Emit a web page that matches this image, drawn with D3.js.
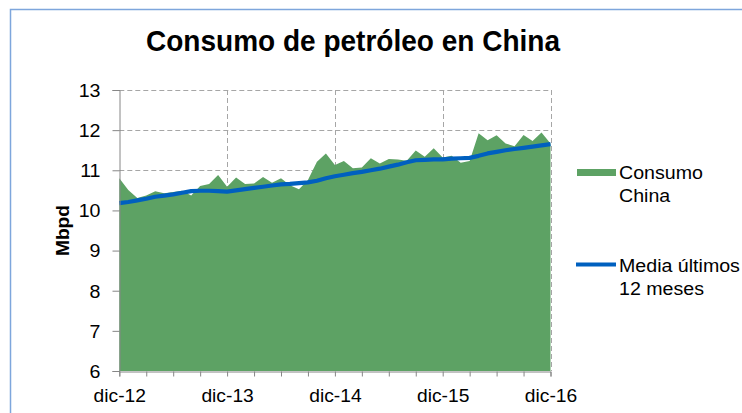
<!DOCTYPE html>
<html>
<head>
<meta charset="utf-8">
<script src="https://cdn.jsdelivr.net/npm/d3@7"></script>
<style>
  body { margin: 0; background: #fff; }
  svg { display: block; font-family: "Liberation Sans", Arial, sans-serif; }
</style>
</head>
<body>
<svg width="742" height="413"></svg>
<script>
// monthly data, dic-12 .. dic-16
var consumo = [10.80, 10.51, 10.31, 10.37, 10.48, 10.43, 10.46, 10.49, 10.37, 10.61,
    10.66, 10.88, 10.59, 10.82, 10.66, 10.67, 10.83, 10.69, 10.80, 10.63,
    10.53, 10.76, 11.21, 11.42, 11.13, 11.23, 11.05, 11.07, 11.30, 11.17,
    11.28, 11.27, 11.24, 11.49, 11.34, 11.55, 11.32, 11.36, 11.19, 11.23,
    11.92, 11.75, 11.87, 11.67, 11.60, 11.88, 11.73, 11.94, 11.67];

var media = [10.18, 10.21, 10.25, 10.29, 10.34, 10.37, 10.40, 10.44, 10.48, 10.49,
    10.49, 10.48, 10.47, 10.50, 10.53, 10.56, 10.59, 10.62, 10.65, 10.66,
    10.68, 10.70, 10.74, 10.80, 10.85, 10.89, 10.93, 10.96, 11.00, 11.04,
    11.09, 11.14, 11.20, 11.25, 11.26, 11.27, 11.27, 11.29, 11.30, 11.31,
    11.36, 11.42, 11.46, 11.50, 11.53, 11.56, 11.59, 11.62, 11.65];

var yearLabels = ["dic-12", "dic-13", "dic-14", "dic-15", "dic-16"];
var yTicks = [6, 7, 8, 9, 10, 11, 12, 13];

var svg = d3.select("svg");

// the source picture is a bit wider than it is tall, so texts get stretched
function widen(sel, k) {
    sel.each(function () {
        var w = this.getComputedTextLength();
        d3.select(this)
            .attr("textLength", w * k)
            .attr("lengthAdjust", "spacingAndGlyphs");
    });
}

// chart frame
svg.append("rect")
    .attr("x", 10.5).attr("y", 9.5)
    .attr("width", 800).attr("height", 500)
    .attr("fill", "none")
    .attr("stroke", "#7ea6dc")
    .attr("stroke-width", 1.5);

var x = d3.scaleLinear().domain([0, 48]).range([119.3, 550.5]);
var y = d3.scaleLinear().domain([6, 13]).range([371, 90]);

// grid
svg.append("g").selectAll("line")
    .data(yTicks.filter(function (d) { return d > 6; }))
    .enter().append("line")
    .attr("x1", x(0)).attr("x2", x(48))
    .attr("y1", function (d) { return Math.round(y(d)) + 0.5; })
    .attr("y2", function (d) { return Math.round(y(d)) + 0.5; })
    .attr("stroke", "#a6a6a6")
    .attr("stroke-dasharray", "5,3");

svg.append("g").selectAll("line")
    .data([12, 24, 36, 48])
    .enter().append("line")
    .attr("x1", function (d) { return Math.round(x(d)) + 0.5; })
    .attr("x2", function (d) { return Math.round(x(d)) + 0.5; })
    .attr("y1", y(13)).attr("y2", y(6))
    .attr("stroke", "#a6a6a6")
    .attr("stroke-dasharray", "5,3");

// area
var area = d3.area()
    .x(function (d, i) { return x(i); })
    .y0(y(6))
    .y1(function (d) { return y(d); });

svg.append("path")
    .datum(consumo)
    .attr("d", area)
    .attr("fill", "#5da264");

// moving average
var line = d3.line()
    .x(function (d, i) { return x(i); })
    .y(function (d) { return y(d); });

svg.append("path")
    .datum(media)
    .attr("d", line)
    .attr("fill", "none")
    .attr("stroke", "#0060bf")
    .attr("stroke-width", 4.2)
    .attr("stroke-linejoin", "round");

// axes
var yAxis = d3.axisLeft(y).tickValues(yTicks).tickFormat(d3.format("d")).tickSize(7).tickPadding(12);
var gy = svg.append("g")
    .attr("transform", "translate(" + (Math.round(x(0)) + 0.5) + ",0)")
    .call(yAxis)
    .attr("font-family", null)
    .attr("font-size", 17.5);
gy.select(".domain").attr("stroke", "#868686");
gy.selectAll(".tick line").attr("stroke", "#868686");
gy.selectAll("text").attr("fill", "#000").attr("x", -19).attr("dy", "0.36em").call(widen, 1.12);

var xAxis = d3.axisBottom(x)
    .tickValues(d3.range(0, 49, 3))
    .tickSize(5)
    .tickFormat(function (d) { return d % 12 === 0 ? yearLabels[d / 12] : ""; })
    .tickPadding(8);
var gx = svg.append("g")
    .attr("transform", "translate(0," + (Math.round(y(6)) + 0.5) + ")")
    .call(xAxis)
    .attr("font-family", null)
    .attr("font-size", 17.5);
gx.select(".domain").attr("stroke", "#868686");
gx.selectAll(".tick line").attr("stroke", "#868686");
gx.selectAll("text").attr("fill", "#000").attr("y", 30).attr("dy", null).call(widen, 1.1);

// axis title
svg.append("text")
    .attr("transform", "translate(69,230.5) rotate(-90)")
    .attr("text-anchor", "middle")
    .attr("font-size", 18)
    .attr("font-weight", "bold")
    .attr("textLength", 51)
    .attr("lengthAdjust", "spacingAndGlyphs")
    .text("Mbpd");

// title
svg.append("text")
    .attr("x", 146).attr("y", 51)
    .attr("font-size", 30)
    .attr("font-weight", "bold")
    .attr("textLength", 414)
    .attr("lengthAdjust", "spacingAndGlyphs")
    .text("Consumo de petróleo en China");

// legend
var leg = svg.append("g").attr("font-size", 17.5);
leg.append("rect")
    .attr("x", 577).attr("y", 169)
    .attr("width", 39).attr("height", 7)
    .attr("fill", "#5da264");
leg.append("line")
    .attr("x1", 576).attr("x2", 616)
    .attr("y1", 264.5).attr("y2", 264.5)
    .attr("stroke", "#0060bf")
    .attr("stroke-width", 4.2);
leg.append("text").attr("x", 619).attr("y", 179).text("Consumo");
leg.append("text").attr("x", 619).attr("y", 202).text("China");
leg.append("text").attr("x", 619).attr("y", 272).text("Media últimos");
leg.append("text").attr("x", 619).attr("y", 295).text("12 meses");
leg.selectAll("text").call(widen, 1.12);
</script>
</body>
</html>
